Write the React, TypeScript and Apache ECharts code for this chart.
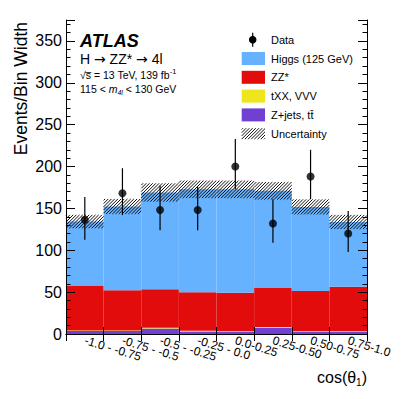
import React, { useEffect, useRef } from 'react';
import * as echarts from 'echarts';

const categories = ['-1.0 - -0.75', '-0.75 - -0.5', '-0.5 - -0.25', '-0.25 - 0.0', '0.0-0.25', '0.25-0.50', '0.50-0.75', '0.75-1.0'];
const zjets = [3.5, 3.5, 6.5, 3, 2.5, 7.5, 2.5, 2.5];
const txx = [0.8, 0.8, 1, 0.8, 0.8, 1, 0.8, 0.8];
const zz = [53, 48, 46, 46, 46, 47, 48, 53];
const higgs = [77, 100, 115.5, 123, 123.5, 115.5, 100.5, 77.5];
const unc = [8, 9, 11, 10.5, 10.5, 10.5, 9, 8.5];
const dataVals = [136.5, 168, 148, 148, 200, 132, 188, 120];
const errUp = [27, 30, 29, 28, 33, 29, 32, 27];
const errDown = [24, 26, 24, 24, 27, 23, 27, 22];
const legendLabels = ['Data', 'Higgs (125 GeV)', 'ZZ*', 'tXX, VVV', 'Z+jets, tt\u0304', 'Uncertainty'];

const FONT = '"Liberation Sans", Arial, Helvetica, sans-serif';
const SYM = '"DejaVu Sans", sans-serif';
const C_HIGGS = '#66b2ff';
const C_ZZ = '#e20c0c';
const C_TXX = '#eee51c';
const C_ZJ = '#7140d2';
const Y_MAX = 375;
const HATCH_STEP = 3.2;

function hatchLines(x0: number, y0: number, x1: number, y1: number, step: number) {
  const out: number[][] = [];
  let k = Math.ceil((x0 + y0) / step) * step;
  for (; k < x1 + y1; k += step) {
    const xa = Math.max(x0, k - y1);
    const xb = Math.min(x1, k - y0);
    if (xb > xa) out.push([xa, k - xa, xb, k - xb]);
  }
  return out;
}

export default function App() {
  const ref = useRef<HTMLDivElement>(null);
  useEffect(() => {
    if (!ref.current) return;
    const chart = echarts.init(ref.current, undefined, { renderer: 'svg' });
    const totals = higgs.map((h, i) => h + zz[i] + txx[i] + zjets[i]);
    const uncData = totals.map((t, i) => [i, t - unc[i], t + unc[i]]);
    const errData = dataVals.map((v, i) => [i, v - errDown[i], v + errUp[i]]);
    const barCommon = {
      type: 'bar',
      stack: 'mc',
      barWidth: '100%',
      barGap: '-100%',
      barCategoryGap: '0%',
      xAxisIndex: 0,
      yAxisIndex: 0,
      silent: true,
    };
    const legendX = 241.7;
    const legendTextX = 271;
    const rowY = legendLabels.map((_, i) => 39.7 + 18.8 * i);
    const legendColors = [C_HIGGS, C_ZZ, C_TXX, C_ZJ];
    const graphics: any[] = [];
    // Data legend marker
    graphics.push({ type: 'line', shape: { x1: 252.7, y1: rowY[0] - 7, x2: 252.7, y2: rowY[0] + 7 }, style: { stroke: '#000', lineWidth: 1.2 } });
    graphics.push({ type: 'circle', shape: { cx: 252.7, cy: rowY[0], r: 3.8 }, style: { fill: '#000' } });
    legendColors.forEach((c, i) => {
      graphics.push({ type: 'rect', shape: { x: legendX, y: rowY[i + 1] - 6.5, width: 23.3, height: 13 }, style: { fill: c } });
    });
    const hy = rowY[5];
    hatchLines(legendX, hy - 5.5, legendX + 23.3, hy + 5.5, HATCH_STEP).forEach((l) => {
      graphics.push({ type: 'line', shape: { x1: l[0], y1: l[1], x2: l[2], y2: l[3] }, style: { stroke: '#111', lineWidth: 1 } });
    });
    legendLabels.forEach((t, i) => {
      graphics.push({ type: 'text', x: legendTextX, y: rowY[i], style: { text: t, fontSize: 11, fontFamily: FONT, fill: '#000', align: 'left', verticalAlign: 'middle' } });
    });
    // ATLAS labels
    graphics.push({ type: 'text', x: 80, y: 41, style: { text: 'ATLAS', fontSize: 18, fontWeight: 'bold', fontStyle: 'italic', fontFamily: FONT, fill: '#000', align: 'left', verticalAlign: 'middle' } });
    graphics.push({
      type: 'text', x: 80, y: 58.5,
      style: {
        text: '{n|H }{a|\u2192}{n| ZZ* }{a|\u2192}{n| 4l}', fontFamily: FONT, fill: '#000', align: 'left', verticalAlign: 'middle',
        rich: {
          n: { fontSize: 14, fontFamily: FONT, lineHeight: 14, verticalAlign: 'middle' },
          a: { fontSize: 14, fontFamily: SYM, lineHeight: 14, verticalAlign: 'middle' },
        },
      },
    });
    graphics.push({
      type: 'text', x: 80, y: 74,
      style: {
        text: '{n|\u221As\u0305 = 13 TeV, 139 fb}{s|-1}', fontFamily: FONT, fill: '#000', align: 'left', verticalAlign: 'middle',
        rich: { n: { fontSize: 10.5, fontFamily: FONT, lineHeight: 13, verticalAlign: 'bottom' }, s: { fontSize: 7.5, fontFamily: FONT, lineHeight: 13, verticalAlign: 'top' } },
      },
    });
    graphics.push({
      type: 'text', x: 80, y: 89,
      style: {
        text: '{n|115 < }{i|m}{s|4l}{n| < 130 GeV}', fontFamily: FONT, fill: '#000', align: 'left', verticalAlign: 'middle',
        rich: {
          n: { fontSize: 10.5, fontFamily: FONT, lineHeight: 13, verticalAlign: 'middle' },
          i: { fontSize: 10.5, fontFamily: FONT, fontStyle: 'italic', lineHeight: 13, verticalAlign: 'middle' },
          s: { fontSize: 7, fontFamily: FONT, fontStyle: 'italic', lineHeight: 13, verticalAlign: 'bottom' },
        },
      },
    });
    // y axis title
    graphics.push({ type: 'text', x: 21, y: 22, rotation: Math.PI / 2, style: { text: 'Events/Bin Width', fontSize: 17.5, fontFamily: FONT, fill: '#000', align: 'right', verticalAlign: 'middle' } });
    // x axis title
    graphics.push({
      type: 'text', x: 367, y: 377,
      style: {
        text: '{n|cos(\u03B8}{s|1}{n|)}', fontFamily: FONT, fill: '#000', align: 'right', verticalAlign: 'middle',
        rich: { n: { fontSize: 16, fontFamily: FONT, lineHeight: 20, verticalAlign: 'middle' }, s: { fontSize: 10, fontFamily: FONT, lineHeight: 20, verticalAlign: 'bottom' } },
      },
    });

    const yMajor = (pos: string, labels: boolean) => ({
      type: 'value', min: 0, max: Y_MAX, interval: 50, position: pos, z: 10,
      axisLine: { show: true, lineStyle: { color: '#000', width: 1 } },
      axisTick: { show: true, inside: true, length: 9, lineStyle: { color: '#000', width: 1 } },
      axisLabel: { show: labels, fontSize: 16, fontFamily: FONT, color: '#000', margin: 4, formatter: (v: number) => (v % 50 === 0 ? String(v) : '') },
      splitLine: { show: false },
    });
    const yMinor = (pos: string) => ({
      type: 'value', min: 0, max: Y_MAX, interval: 10, position: pos, z: 10,
      axisLine: { show: false },
      axisTick: { show: true, inside: true, length: 4.5, lineStyle: { color: '#000', width: 1 } },
      axisLabel: { show: false },
      splitLine: { show: false },
    });

    chart.setOption({
      animation: false,
      textStyle: { fontFamily: FONT },
      grid: { left: 66, right: 48, top: 20, bottom: 65, containLabel: false },
      xAxis: [
        {
          type: 'category', data: categories, position: 'bottom', boundaryGap: true, z: 10,
          axisLine: { show: true, lineStyle: { color: '#000', width: 1 } },
          axisTick: { show: true, inside: true, length: 7, interval: 0, lineStyle: { color: '#000' } },
          axisLabel: { show: true, interval: 0, rotate: -17, fontSize: 12, fontFamily: FONT, color: '#000', margin: 6 },
          splitLine: { show: false },
        },
        {
          type: 'category', data: categories, position: 'top', boundaryGap: true, z: 10,
          axisLine: { show: true, lineStyle: { color: '#000', width: 1 } },
          axisTick: { show: true, inside: true, length: 7, interval: 0, lineStyle: { color: '#000' } },
          axisLabel: { show: false },
          splitLine: { show: false },
        },
      ],
      yAxis: [yMajor('left', true), yMinor('left'), yMajor('right', false), yMinor('right')],
      series: [
        { ...barCommon, name: 'Z+jets', data: zjets, itemStyle: { color: C_ZJ } },
        { ...barCommon, name: 'tXX', data: txx, itemStyle: { color: C_TXX } },
        { ...barCommon, name: 'ZZ', data: zz, itemStyle: { color: C_ZZ } },
        { ...barCommon, name: 'Higgs', data: higgs, itemStyle: { color: C_HIGGS } },
        {
          type: 'custom', name: 'Uncertainty', xAxisIndex: 0, yAxisIndex: 0, silent: true, z: 5,
          data: uncData, encode: { x: 0, y: [1, 2] },
          renderItem: (params: any, api: any) => {
            const i = api.value(0);
            const lo = api.coord([i, api.value(1)]);
            const hi = api.coord([i, api.value(2)]);
            const w = api.size([1, 0])[0];
            const x0 = lo[0] - w / 2;
            const x1 = lo[0] + w / 2;
            const lines = hatchLines(x0, hi[1], x1, lo[1], HATCH_STEP);
            return {
              type: 'group',
              children: lines.map((l) => ({ type: 'line', shape: { x1: l[0], y1: l[1], x2: l[2], y2: l[3] }, style: { stroke: '#111', lineWidth: 1 } })),
            };
          },
        },
        {
          type: 'custom', name: 'DataErr', xAxisIndex: 0, yAxisIndex: 0, silent: true, z: 6,
          data: errData, encode: { x: 0, y: [1, 2] },
          renderItem: (params: any, api: any) => {
            const i = api.value(0);
            const lo = api.coord([i, api.value(1)]);
            const hi = api.coord([i, api.value(2)]);
            return { type: 'line', shape: { x1: lo[0], y1: lo[1], x2: hi[0], y2: hi[1] }, style: { stroke: '#000', lineWidth: 1.2 } };
          },
        },
        {
          type: 'scatter', name: 'Data', xAxisIndex: 0, yAxisIndex: 0, silent: true, z: 7,
          data: dataVals.map((v, i) => [i, v]), symbol: 'circle', symbolSize: 8, itemStyle: { color: '#000' },
        },
      ],
      graphic: graphics,
    });
    return () => chart.dispose();
  }, []);
  return <div ref={ref} style={{ position: 'fixed', left: 0, top: 0, width: 415, height: 399, background: '#fff' }} />;
}
